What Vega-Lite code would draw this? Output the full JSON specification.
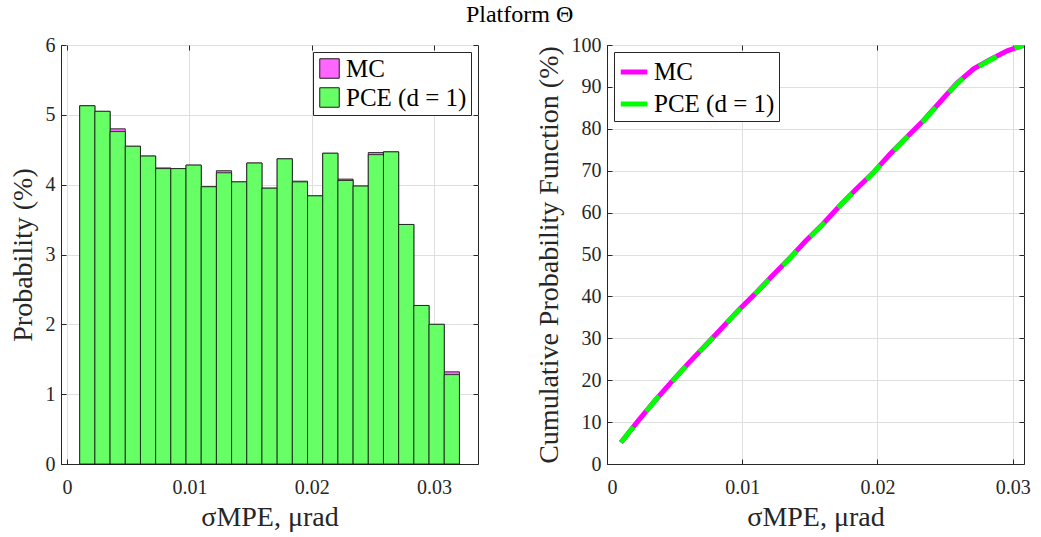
{
  "$schema": "https://vega.github.io/schema/vega-lite/v6.json",
  "padding": {"left": 8, "top": 2, "right": 10, "bottom": 4},
  "title": {"text": "Platform Θ", "fontSize": 24, "fontWeight": "normal", "font": "Liberation Serif", "anchor": "middle", "color": "#000000", "offset": 8},
  "config": {
    "font": "Liberation Serif",
    "view": {"stroke": "#262626", "strokeWidth": 1},
    "axis": {
      "labelFont": "Liberation Serif", "titleFont": "Liberation Serif",
      "labelFontSize": 20, "titleFontSize": 28, "titleFontWeight": "normal",
      "labelColor": "#262626", "titleColor": "#262626",
      "domainColor": "#262626", "tickColor": "#262626", "gridColor": "#dfdfdf",
      "tickSize": -5
    },
    "axisX": {"labelPadding": 18, "titlePadding": 6},
    "axisY": {"labelPadding": 11, "titlePadding": 8},
    "legend": {
      "labelFont": "Liberation Serif", "labelFontSize": 25, "labelColor": "#000000",
      "strokeColor": "#262626", "fillColor": "#ffffff", "padding": 4, "rowPadding": 3,
      "title": null
    }
  },
  "datasets": {
    "hist": [
      {"x0": 0.00103, "x1": 0.002272, "mc": 5.13, "pce": 5.13},
      {"x0": 0.002272, "x1": 0.003514, "mc": 5.05, "pce": 5.05},
      {"x0": 0.003514, "x1": 0.004756, "mc": 4.80, "pce": 4.76},
      {"x0": 0.004756, "x1": 0.005998, "mc": 4.55, "pce": 4.55},
      {"x0": 0.005998, "x1": 0.00724, "mc": 4.41, "pce": 4.41},
      {"x0": 0.00724, "x1": 0.008482, "mc": 4.24, "pce": 4.23},
      {"x0": 0.008482, "x1": 0.009724, "mc": 4.23, "pce": 4.23},
      {"x0": 0.009724, "x1": 0.010966, "mc": 4.28, "pce": 4.28},
      {"x0": 0.010966, "x1": 0.012208, "mc": 3.97, "pce": 3.97},
      {"x0": 0.012208, "x1": 0.01345, "mc": 4.20, "pce": 4.17},
      {"x0": 0.01345, "x1": 0.014692, "mc": 4.04, "pce": 4.04},
      {"x0": 0.014692, "x1": 0.015934, "mc": 4.31, "pce": 4.31},
      {"x0": 0.015934, "x1": 0.017176, "mc": 3.95, "pce": 3.95},
      {"x0": 0.017176, "x1": 0.018418, "mc": 4.37, "pce": 4.37},
      {"x0": 0.018418, "x1": 0.01966, "mc": 4.05, "pce": 4.04},
      {"x0": 0.01966, "x1": 0.020902, "mc": 3.84, "pce": 3.84},
      {"x0": 0.020902, "x1": 0.022144, "mc": 4.45, "pce": 4.45},
      {"x0": 0.022144, "x1": 0.023386, "mc": 4.08, "pce": 4.06},
      {"x0": 0.023386, "x1": 0.024628, "mc": 3.98, "pce": 3.98},
      {"x0": 0.024628, "x1": 0.02587, "mc": 4.46, "pce": 4.43},
      {"x0": 0.02587, "x1": 0.027112, "mc": 4.47, "pce": 4.47},
      {"x0": 0.027112, "x1": 0.028354, "mc": 3.43, "pce": 3.43},
      {"x0": 0.028354, "x1": 0.029596, "mc": 2.27, "pce": 2.27},
      {"x0": 0.029596, "x1": 0.030838, "mc": 2.00, "pce": 2.00},
      {"x0": 0.030838, "x1": 0.03208, "mc": 1.32, "pce": 1.28}
    ],
    "cdf": [
      {"x": 0.00103, "mc": 5.13, "pce": 5.13},
      {"x": 0.002272, "mc": 10.18, "pce": 10.18},
      {"x": 0.003514, "mc": 14.98, "pce": 14.94},
      {"x": 0.004756, "mc": 19.53, "pce": 19.49},
      {"x": 0.005998, "mc": 23.94, "pce": 23.90},
      {"x": 0.00724, "mc": 28.18, "pce": 28.13},
      {"x": 0.008482, "mc": 32.41, "pce": 32.36},
      {"x": 0.009724, "mc": 36.69, "pce": 36.64},
      {"x": 0.010966, "mc": 40.66, "pce": 40.61},
      {"x": 0.012208, "mc": 44.86, "pce": 44.78},
      {"x": 0.01345, "mc": 48.90, "pce": 48.82},
      {"x": 0.014692, "mc": 53.21, "pce": 53.13},
      {"x": 0.015934, "mc": 57.16, "pce": 57.08},
      {"x": 0.017176, "mc": 61.53, "pce": 61.45},
      {"x": 0.018418, "mc": 65.58, "pce": 65.49},
      {"x": 0.01966, "mc": 69.42, "pce": 69.33},
      {"x": 0.020902, "mc": 73.87, "pce": 73.78},
      {"x": 0.022144, "mc": 77.95, "pce": 77.84},
      {"x": 0.023386, "mc": 81.93, "pce": 81.82},
      {"x": 0.024628, "mc": 86.39, "pce": 86.25},
      {"x": 0.02587, "mc": 90.86, "pce": 90.72},
      {"x": 0.027112, "mc": 94.29, "pce": 94.15},
      {"x": 0.028354, "mc": 96.56, "pce": 96.42},
      {"x": 0.029596, "mc": 98.60, "pce": 98.55},
      {"x": 0.030838, "mc": 100.0, "pce": 100.0}
    ]
  },
  "spacing": 55,
  "resolve": {"scale": {"color": "independent"}, "legend": {"color": "independent"}},
  "hconcat": [
    {
      "width": 417, "height": 419,
      "data": {"name": "hist"},
      "resolve": {"axis": {"x": "independent", "y": "independent"}},
      "layer": [
        {
          "mark": {"type": "bar", "stroke": "#1a1a1a", "strokeWidth": 1, "strokeOpacity": 0.85},
          "encoding": {
            "x": {"field": "x0", "type": "quantitative", "scale": {"domain": [-0.0005, 0.0336], "nice": false, "zero": false},
                  "axis": {"values": [0, 0.01, 0.02, 0.03], "format": ".2~f", "title": "σMPE, μrad", "grid": true}},
            "x2": {"field": "x1"},
            "y": {"field": "mc", "type": "quantitative", "scale": {"domain": [0, 6], "nice": false},
                  "axis": {"values": [0, 1, 2, 3, 4, 5, 6], "format": "d", "title": "Probability (%)", "grid": true}},
            "y2": {"datum": 0},
            "color": {"datum": "MC", "type": "nominal",
                      "scale": {"domain": ["MC", "PCE (d = 1)"], "range": ["#ff66ff", "#66ff66"]},
                      "legend": {"orient": "top-right", "offset": 7, "symbolType": "square", "symbolSize": 380,
                                 "symbolStrokeColor": "#1a1a1a", "symbolStrokeWidth": 1, "symbolOpacity": 1}}
          }
        },
        {
          "mark": {"type": "bar", "stroke": "#1a1a1a", "strokeWidth": 1, "strokeOpacity": 0.85},
          "encoding": {
            "x": {"field": "x0", "type": "quantitative",
                  "axis": {"orient": "top", "values": [0, 0.01, 0.02, 0.03], "labels": false, "title": null, "grid": false, "domain": false}},
            "x2": {"field": "x1"},
            "y": {"field": "pce", "type": "quantitative",
                  "axis": {"orient": "right", "values": [0, 1, 2, 3, 4, 5, 6], "labels": false, "title": null, "grid": false, "domain": false}},
            "y2": {"datum": 0},
            "color": {"datum": "PCE (d = 1)", "type": "nominal"}
          }
        }
      ]
    },
    {
      "width": 417, "height": 419,
      "data": {"name": "cdf"},
      "resolve": {"axis": {"x": "independent", "y": "independent"}},
      "layer": [
        {
          "mark": {"type": "line", "strokeWidth": 5, "clip": true},
          "encoding": {
            "x": {"field": "x", "type": "quantitative", "scale": {"domain": [0, 0.03084], "nice": false, "zero": false},
                  "axis": {"values": [0, 0.01, 0.02, 0.03], "format": ".2~f", "title": "σMPE, μrad", "grid": true}},
            "y": {"field": "mc", "type": "quantitative", "scale": {"domain": [0, 100], "nice": false},
                  "axis": {"values": [0, 10, 20, 30, 40, 50, 60, 70, 80, 90, 100], "title": "Cumulative Probability Function (%)", "grid": true}},
            "color": {"datum": "MC", "type": "nominal",
                      "scale": {"domain": ["MC", "PCE (d = 1)"], "range": ["#ff00ff", "#00ff00"]},
                      "legend": {"orient": "top-left", "offset": 7, "symbolType": "stroke", "symbolSize": 700,
                                 "symbolStrokeWidth": 5}}
          }
        },
        {
          "mark": {"type": "line", "strokeWidth": 5, "strokeDash": [20, 20], "clip": true},
          "encoding": {
            "x": {"field": "x", "type": "quantitative",
                  "axis": {"orient": "top", "values": [0, 0.01, 0.02, 0.03], "labels": false, "title": null, "grid": false, "domain": false}},
            "y": {"field": "pce", "type": "quantitative",
                  "axis": {"orient": "right", "values": [0, 10, 20, 30, 40, 50, 60, 70, 80, 90, 100], "labels": false, "title": null, "grid": false, "domain": false}},
            "color": {"datum": "PCE (d = 1)", "type": "nominal"}
          }
        }
      ]
    }
  ]
}
